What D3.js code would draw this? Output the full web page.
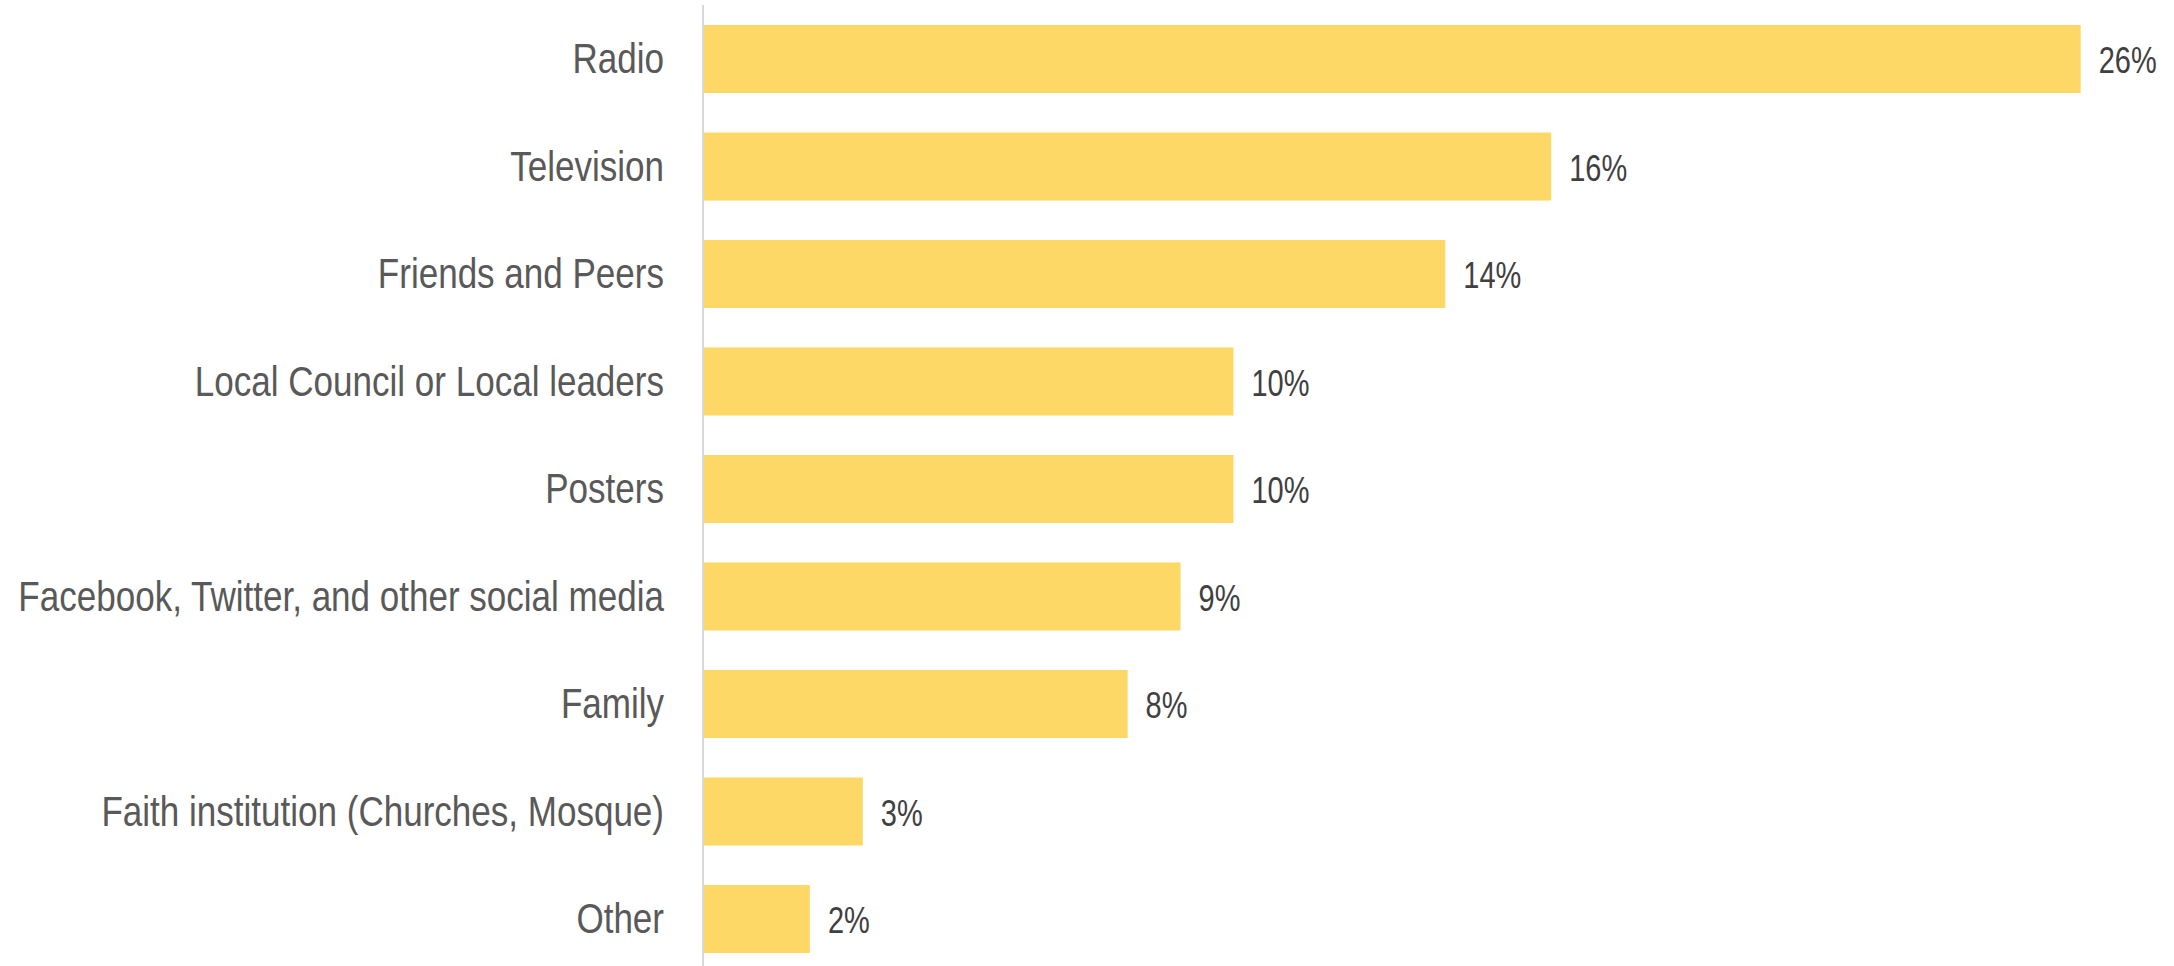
<!DOCTYPE html>
<html>
<head>
<meta charset="utf-8">
<script src="https://cdn.jsdelivr.net/npm/d3@7"></script>
<style>
  html, body { margin: 0; padding: 0; background: #ffffff; }
  svg { display: block; }
</style>
</head>
<body>
<svg id="chart" width="2174" height="966"></svg>
<script>
// Sources of information, share of respondents (%)
const categories = [
  "Radio",
  "Television",
  "Friends and Peers",
  "Local Council or Local leaders",
  "Posters",
  "Facebook, Twitter, and other social media",
  "Family",
  "Faith institution (Churches, Mosque)",
  "Other"
];
const values = [26, 16, 14, 10, 10, 9, 8, 3, 2];

const W = 2174, H = 966;
const axisX = 704;
const svg = d3.select("#chart");

const data = categories.map((c, i) => ({ category: c, value: values[i] }));

// Horizontal value scale: 0 at the axis line
const x = d3.scaleLinear().domain([0, 26]).range([axisX, 2080.7]);

// Category bands, top to bottom
const step = 107.5, barH = 68;
const pad = (step - barH) / step;
const y = d3.scaleBand()
  .domain(categories)
  .range([25 - (step - barH) / 2, 25 - (step - barH) / 2 + step * categories.length])
  .paddingInner(pad)
  .paddingOuter(pad / 2);

const fontStack = "'Liberation Sans Narrow', 'Arial Narrow', 'Liberation Sans', Arial, sans-serif";

// Bars
svg.append("g")
  .selectAll("rect")
  .data(data)
  .join("rect")
  .attr("x", x(0))
  .attr("y", d => y(d.category))
  .attr("width", d => x(d.value) - x(0))
  .attr("height", y.bandwidth())
  .attr("fill", "#FED866");

// Vertical category axis line
svg.append("line")
  .attr("x1", axisX - 1).attr("x2", axisX - 1)
  .attr("y1", 5).attr("y2", H)
  .attr("stroke", "#d9d9d9")
  .attr("stroke-width", 2);

// Helper: horizontal scale factor so a reference string has the given width
function condenseFactor(sample, size, targetWidth) {
  const t = svg.append("text")
    .attr("font-family", fontStack)
    .attr("font-size", size)
    .text(sample);
  const w = t.node().getComputedTextLength();
  t.remove();
  return targetWidth / w;
}

const catSize = 42;
const catK = condenseFactor("Facebook, Twitter, and other social media", catSize, 646);
const valSize = 37;
const valK = condenseFactor("26%", valSize, 58);

// Category labels, right aligned against the axis
svg.append("g")
  .selectAll("text")
  .data(data)
  .join("text")
  .attr("transform", d => `translate(664,${y(d.category) + y.bandwidth() / 2 + 14}) scale(${catK},1)`)
  .attr("text-anchor", "end")
  .attr("font-family", fontStack)
  .attr("font-size", catSize)
  .attr("fill", "#595959")
  .text(d => d.category);

// Value labels at the end of each bar
const fmt = d => d + "%";
svg.append("g")
  .selectAll("text")
  .data(data)
  .join("text")
  .attr("transform", d => `translate(${x(d.value) + 18},${y(d.category) + y.bandwidth() / 2 + 14}) scale(${valK},1)`)
  .attr("text-anchor", "start")
  .attr("font-family", fontStack)
  .attr("font-size", valSize)
  .attr("fill", "#404040")
  .text(d => fmt(d.value));
</script>
</body>
</html>
